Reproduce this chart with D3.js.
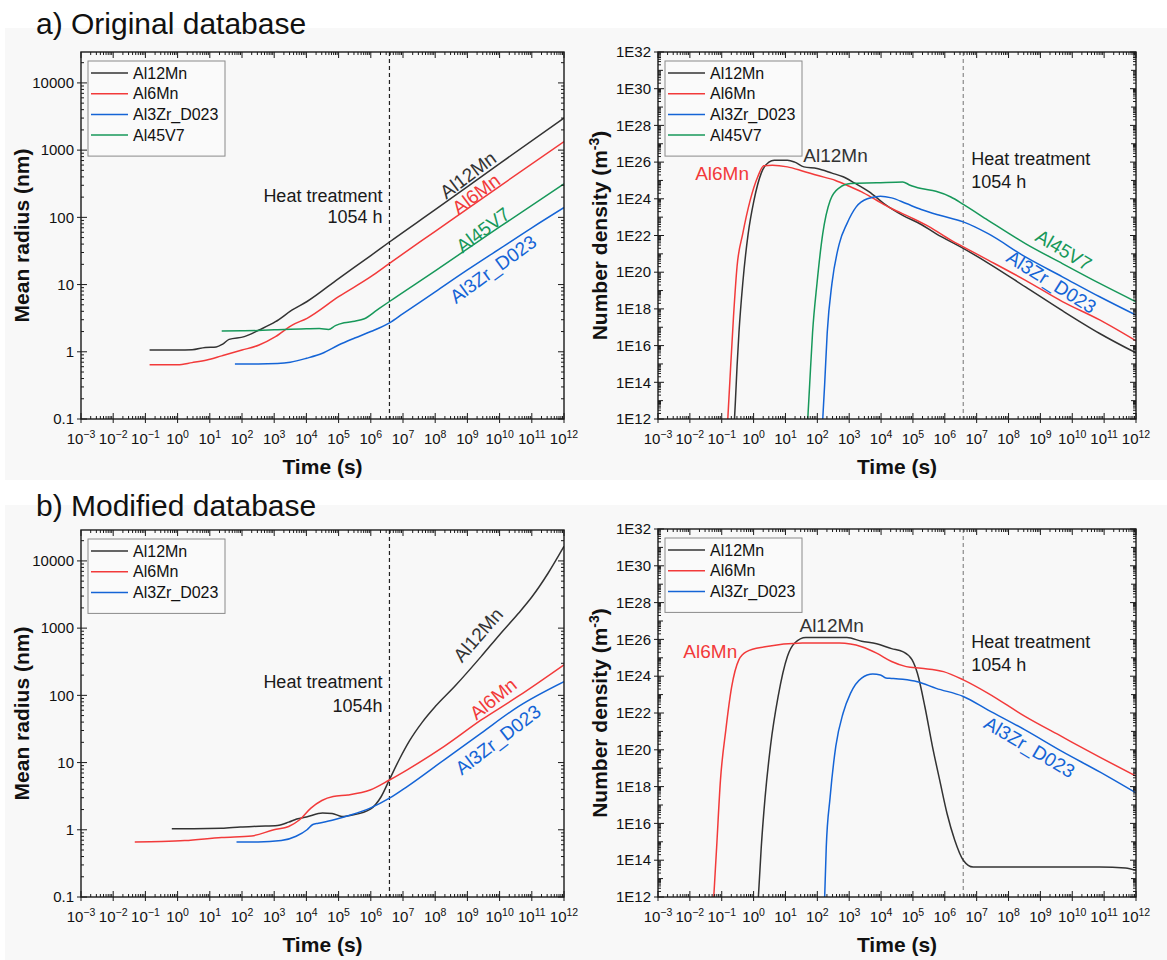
<!DOCTYPE html>
<html><head><meta charset="utf-8">
<script src="https://cdn.jsdelivr.net/npm/d3@7"></script>
<style>
body{margin:0;background:#fff;}
svg{display:block;font-family:"Liberation Sans",Arial,Helvetica,sans-serif;}
</style>
</head><body>
<svg id="c" width="1167" height="960"></svg>
<script>
// ================= DATA =================
const timeExponents = d3.range(-3, 13);          // x ticks 10^-3 ... 10^12
const radiusTicks = [0.1, 1, 10, 100, 1000, 10000];
const densityExponents = [12,14,16,18,20,22,24,26,28,30,32];
const heatTreatmentHours = 1054;
const seriesNames = ["Al12Mn", "Al6Mn", "Al3Zr_D023", "Al45V7"];
const seriesColors = {"Al12Mn":"#333333","Al6Mn":"#f23a3a","Al3Zr_D023":"#1464d6","Al45V7":"#17985a"};

// ---- a) original database, mean radius: [log10 time (s), radius (nm)]
const aRadius_Al12Mn = [[-0.87,1.06],[0,1.06],[0.45,1.07],[0.86,1.16],[1.2,1.18],[1.4,1.3],[1.6,1.53],[2.07,1.68],[2.53,2.11],[3.04,2.8],[3.56,4.19],[4.02,5.6],[5,12.3],[6,27],[6.58,43],[8,130],[10,630],[12,3000]];
const aRadius_Al6Mn  = [[-0.87,0.64],[0,0.64],[0.45,0.69],[0.91,0.755],[1.37,0.87],[2.0,1.06],[2.53,1.26],[3.04,1.68],[3.56,2.5],[4.02,3.15],[5,6.6],[6,13.1],[6.58,20.7],[8,62],[10,290],[12,1340]];
const aRadius_Al3Zr  = [[1.78,0.66],[2.5,0.66],[3.1,0.67],[3.5,0.7],[4,0.8],[4.5,0.95],[5,1.26],[5.5,1.6],[6,2.0],[6.58,2.7],[7,3.7],[8,7.8],[9,16.5],[10,34],[11,70],[12,140]];
const aRadius_Al45V7 = [[1.37,2.04],[2,2.05],[2.5,2.07],[3,2.12],[3.5,2.17],[4,2.2],[4.4,2.22],[4.69,2.15],[4.9,2.45],[5.17,2.7],[5.5,2.85],[5.8,3.1],[6.2,4.2],[6.58,5.6],[8,16],[10,72],[12,315]];

// ---- a) original database, number density: [log10 time (s), log10 N (m^-3)]
const aDensity_Al12Mn = [[-0.6,12],[-0.57,13.0],[-0.52,14.85],[-0.46,16.7],[-0.34,19.4],[-0.17,22.1],[0.01,23.9],[0.24,25.4],[0.48,26.0],[0.65,26.1],[1.06,26.1],[1.29,26.0],[1.58,25.74],[1.99,25.65],[2.46,25.4],[2.81,25.2],[3.16,24.87],[3.63,24.38],[4.09,23.74],[4.68,23.1],[5.26,22.6],[5.72,22.1],[6.58,21.3],[7.36,20.5],[8.53,19.2],[9.69,17.9],[10.86,16.66],[12,15.6]];
const aDensity_Al6Mn  = [[-0.81,12],[-0.75,13.9],[-0.63,17.6],[-0.52,20.3],[-0.34,22.1],[-0.11,23.9],[0.13,25.2],[0.32,25.8],[0.59,25.83],[1.06,25.74],[1.53,25.52],[1.99,25.28],[2.57,25.0],[2.93,24.74],[3.39,24.38],[3.86,23.92],[4.33,23.47],[4.91,23.0],[5.49,22.5],[6.19,21.75],[6.58,21.38],[7.36,20.66],[8.52,19.57],[9.69,18.4],[10.86,17.4],[12,16.26]];
const aDensity_Al3Zr  = [[2.17,12],[2.23,13.9],[2.31,16.7],[2.46,19.4],[2.69,21.56],[2.93,22.65],[3.22,23.56],[3.57,24.0],[3.98,24.14],[4.33,24.05],[4.79,23.74],[5.26,23.42],[5.84,23.1],[6.58,22.74],[7.36,22.1],[8.53,20.83],[9.69,19.75],[10.86,18.66],[12,17.66]];
const aDensity_Al45V7 = [[1.70,12],[1.76,13.9],[1.85,16.7],[1.99,19.4],[2.17,22.1],[2.40,23.9],[2.69,24.6],[3.04,24.83],[3.86,24.87],[4.68,24.92],[4.91,24.74],[5.26,24.56],[5.72,24.41],[6.19,24.1],[6.58,23.7],[7.36,22.83],[8.53,21.56],[9.69,20.47],[10.86,19.39],[12,18.39]];

// ---- b) modified database, mean radius: [log10 time (s), radius (nm)]
const bRadius_Al12Mn = [[-0.18,1.04],[0.5,1.04],[1.37,1.05],[1.95,1.1],[2.53,1.13],[3.1,1.16],[3.45,1.3],[3.7,1.45],[4.0,1.55],[4.5,1.78],[4.8,1.75],[5.1,1.58],[5.4,1.65],[6.0,2.05],[6.32,3.1],[6.58,5.6],[6.9,11.5],[7.2,21],[7.6,40],[8.0,68],[8.63,140],[9.43,380],[10,800],[10.58,1650],[11,2900],[11.5,6500],[12,16500]];
const bRadius_Al6Mn  = [[-1.33,0.66],[-0.5,0.67],[0.22,0.69],[1.37,0.77],[2.3,0.81],[2.99,1.0],[3.45,1.12],[3.79,1.41],[4.14,2.1],[4.48,2.73],[4.83,3.13],[5.29,3.3],[5.98,3.9],[6.58,5.5],[7.13,7.8],[8.28,17.4],[9.43,43],[10.58,97],[12,285]];
const bRadius_Al3Zr  = [[1.83,0.66],[2.5,0.66],[3.22,0.69],[3.68,0.8],[4.02,1.0],[4.2,1.2],[4.37,1.25],[4.83,1.4],[5.4,1.67],[5.98,2.1],[6.58,2.95],[7.13,4.4],[8.28,11],[9.43,27.5],[10.58,68],[12,160]];

// ---- b) modified database, number density: [log10 time (s), log10 N (m^-3)]
const bDensity_Al12Mn = [[0.15,12],[0.24,14.7],[0.36,17.4],[0.53,20.2],[0.77,22.9],[1.06,25.07],[1.29,25.8],[1.64,26.1],[2.93,26.1],[3.39,25.9],[3.86,25.76],[4.33,25.5],[4.68,25.34],[4.97,24.9],[5.14,24.16],[5.38,22.3],[5.61,20.2],[5.84,18.35],[6.07,16.54],[6.31,15.1],[6.58,14.0],[6.89,13.63],[8.52,13.63],[10.86,13.63],[11.67,13.58],[12,13.45]];
const bDensity_Al6Mn  = [[-1.25,12],[-1.16,14.7],[-1.04,18.35],[-0.87,21.1],[-0.69,23.4],[-0.46,24.9],[-0.22,25.34],[0.36,25.6],[1.53,25.8],[2.69,25.8],[3.39,25.6],[3.86,25.25],[4.33,24.8],[4.79,24.52],[5.26,24.43],[5.96,24.25],[6.58,23.8],[7.36,23.07],[8.53,21.8],[9.69,20.7],[10.86,19.6],[12,18.57]];
const bDensity_Al3Zr  = [[2.23,12],[2.28,14.7],[2.40,17.4],[2.58,20.2],[2.81,22.0],[3.04,23.07],[3.39,23.9],[3.74,24.12],[3.98,24.07],[4.15,23.9],[4.33,23.88],[4.68,23.83],[5.14,23.7],[5.73,23.34],[6.58,22.9],[7.36,22.16],[8.53,21.07],[9.69,19.9],[10.86,18.8],[12,17.66]];

// ---- curve labels: [text, log10 t, value (radius nm or log10 N), angle]
const aRadiusLabels  = [["Al12Mn",9.02,427,-37],["Al6Mn",9.27,223,-37],["Al45V7",9.48,65,-37],["Al3Zr_D023",9.80,17,-36]];
const aDensityLabels = [["Al12Mn",2.57,26.39,0],["Al6Mn",-0.99,25.41,0],["Al45V7",9.73,21.21,31],["Al3Zr_D023",9.35,19.47,32]];
const bRadiusLabels  = [["Al12Mn",9.33,794,-49],["Al6Mn",9.8,89,-39],["Al3Zr_D023",9.95,21.9,-37.5]];
const bDensityLabels = [["Al12Mn",2.45,26.78,0],["Al6Mn",-1.36,25.37,0],["Al3Zr_D023",8.66,20.15,30.5]];

// ================= DRAWING =================
const svg = d3.select("#c");
svg.append("rect").attr("x",5).attr("y",28).attr("width",1162).attr("height",452).attr("fill","#f8f8f8");
svg.append("rect").attr("x",5).attr("y",505).attr("width",1162).attr("height",455).attr("fill","#f8f8f8");

svg.append("text").attr("x",36).attr("y",34).attr("font-size",30).attr("fill","#111").text("a) Original database");
svg.append("text").attr("x",36).attr("y",516).attr("font-size",30).attr("fill","#111").text("b) Modified database");

const htSeconds = heatTreatmentHours*3600;
let clipId = 0;

function drawPanel(cfg){
  const {x0,x1,y0,y1,kind,series,labels,legend,dashColor,ht} = cfg;
  const g = svg.append("g");
  const x = d3.scaleLog().domain([1e-3,1e12]).range([x0,x1]);
  const yDom = kind==="radius" ? [0.1, Math.pow(10,4.46)] : [1e12,1e32];
  const y = d3.scaleLog().domain(yDom).range([y1,y0]);

  const id = "clip"+(clipId++);
  svg.append("clipPath").attr("id",id).append("rect").attr("x",x0).attr("y",y0).attr("width",x1-x0).attr("height",y1-y0);

  // heat-treatment line
  const hx = x(htSeconds);
  g.append("line").attr("x1",hx).attr("x2",hx).attr("y1",y0).attr("y2",y1)
    .attr("stroke",dashColor).attr("stroke-width",1.2).attr("stroke-dasharray","4,3");

  // curves
  const line = d3.line()
    .x(d=>x(Math.pow(10,d[0])))
    .y(d=>y(kind==="radius"? d[1] : Math.pow(10,d[1])))
    .curve(d3.curveMonotoneX);
  const cg = g.append("g").attr("clip-path",`url(#${id})`);
  series.forEach(([name,data])=>{
    cg.append("path").datum(data).attr("d",line).attr("fill","none")
      .attr("stroke",seriesColors[name]).attr("stroke-width",1.5);
  });

  // frame
  g.append("rect").attr("x",x0).attr("y",y0).attr("width",x1-x0).attr("height",y1-y0)
    .attr("fill","none").attr("stroke","#1a1a1a").attr("stroke-width",1.4);

  const tk = g.append("g").attr("stroke","#1a1a1a").attr("stroke-width",1);
  // x ticks
  timeExponents.forEach(e=>{
    const xp = x(Math.pow(10,e));
    tk.append("line").attr("x1",xp).attr("x2",xp).attr("y1",y1+4).attr("y2",y1-6);
    tk.append("line").attr("x1",xp).attr("x2",xp).attr("y1",y0).attr("y2",y0+6);
    if(e<12){
      for(let k=2;k<=9;k++){
        const xm = x(k*Math.pow(10,e));
        tk.append("line").attr("x1",xm).attr("x2",xm).attr("y1",y1).attr("y2",y1-3);
        tk.append("line").attr("x1",xm).attr("x2",xm).attr("y1",y0).attr("y2",y0+3);
      }
    }
    const t = g.append("text").attr("x",xp).attr("y",y1+25).attr("text-anchor","middle")
      .attr("font-size",15).attr("fill","#111");
    t.append("tspan").text("10");
    t.append("tspan").attr("dy",-6).attr("font-size",10.5).text(e<0? "\u2212"+(-e) : String(e));
  });

  // y ticks
  function yMajor(v, label){
    const yp = y(v);
    tk.append("line").attr("x1",x0-4).attr("x2",x0+6).attr("y1",yp).attr("y2",yp);
    tk.append("line").attr("x1",x1-6).attr("x2",x1).attr("y1",yp).attr("y2",yp);
    g.append("text").attr("x",x0-7).attr("y",yp).attr("dy","0.35em").attr("text-anchor","end")
      .attr("font-size",15).attr("fill","#111").text(label);
  }
  function yMinor(v,len){
    if(v<yDom[0]||v>yDom[1]) return;
    const yp = y(v);
    tk.append("line").attr("x1",x0).attr("x2",x0+len).attr("y1",yp).attr("y2",yp);
    tk.append("line").attr("x1",x1-len).attr("x2",x1).attr("y1",yp).attr("y2",yp);
  }
  if(kind==="radius"){
    radiusTicks.forEach(v=>{
      yMajor(v, String(v));
      for(let k=2;k<=9;k++) yMinor(k*v,3);
    });
  } else {
    densityExponents.forEach(e=>{
      yMajor(Math.pow(10,e), "1E"+e);
      if(e<32){
        for(let k=2;k<=9;k++) yMinor(k*Math.pow(10,e),3);
        yMinor(Math.pow(10,e+1),5);
        for(let k=2;k<=9;k++) yMinor(k*Math.pow(10,e+1),3);
      }
    });
  }

  // axis titles
  g.append("text").attr("x",(x0+x1)/2).attr("y",y1+55).attr("text-anchor","middle")
    .attr("font-size",21).attr("font-weight","bold").attr("fill","#111").text("Time (s)");
  const yt = g.append("text").attr("transform",`translate(${cfg.ytX},${(y0+y1)/2}) rotate(-90)`)
    .attr("text-anchor","middle").attr("font-size",21).attr("font-weight","bold").attr("fill","#111");
  if(kind==="radius"){ yt.text("Mean radius (nm)"); }
  else {
    yt.append("tspan").text("Number density (m");
    yt.append("tspan").attr("dy",-8).attr("font-size",14).text("-3");
    yt.append("tspan").attr("dy",8).text(")");
  }

  // heat treatment annotation
  const ha = g.append("g").attr("font-size",18).attr("fill","#1a1a1a");
  const hax = ht.side==="left" ? hx-7 : hx+8;
  const anchor = ht.side==="left" ? "end" : "start";
  const yv = v => kind==="radius" ? y(v) : y(Math.pow(10,v));
  ha.append("text").attr("x",hax).attr("y",yv(ht.v1)).attr("text-anchor",anchor).text("Heat treatment");
  ha.append("text").attr("x",hax).attr("y",yv(ht.v2)).attr("text-anchor",anchor).text(ht.t2);

  // curve labels
  labels.forEach(([txt,lt,v,ang])=>{
    const px = x(Math.pow(10,lt)), py = yv(v);
    g.append("text").attr("transform",`translate(${px},${py}) rotate(${ang})`)
      .attr("text-anchor","middle").attr("dy","0.35em").attr("font-size",19)
      .attr("fill",seriesColors[txt]).text(txt);
  });

  // legend
  const lx = x0+7, ly = y0+9, lh = 21+ (legend.length-1)*20.7 + 12;
  const lg = g.append("g");
  lg.append("rect").attr("x",lx).attr("y",ly).attr("width",137).attr("height",lh)
    .attr("fill","#fafafa").attr("stroke","#8a8a8a").attr("stroke-width",1);
  legend.forEach((name,i)=>{
    const ey = ly+12+i*20.7;
    lg.append("line").attr("x1",lx+3).attr("x2",lx+40).attr("y1",ey).attr("y2",ey)
      .attr("stroke",seriesColors[name]).attr("stroke-width",1.5);
    lg.append("text").attr("x",lx+45).attr("y",ey).attr("dy","0.36em").attr("font-size",16)
      .attr("fill","#111").text(name);
  });
}

drawPanel({x0:81,x1:564,y0:52,y1:419,kind:"radius",ytX:29,dashColor:"#222",
  series:[["Al12Mn",aRadius_Al12Mn],["Al6Mn",aRadius_Al6Mn],["Al3Zr_D023",aRadius_Al3Zr],["Al45V7",aRadius_Al45V7]],
  labels:aRadiusLabels, legend:seriesNames,
  ht:{side:"left",v1:170,v2:83,t2:"1054 h"}});

drawPanel({x0:658,x1:1136,y0:52,y1:419,kind:"density",ytX:607,dashColor:"#8a8a8a",
  series:[["Al12Mn",aDensity_Al12Mn],["Al6Mn",aDensity_Al6Mn],["Al3Zr_D023",aDensity_Al3Zr],["Al45V7",aDensity_Al45V7]],
  labels:aDensityLabels, legend:seriesNames,
  ht:{side:"right",v1:25.84,v2:24.59,t2:"1054 h"}});

drawPanel({x0:81,x1:564,y0:530,y1:897,kind:"radius",ytX:29,dashColor:"#222",
  series:[["Al12Mn",bRadius_Al12Mn],["Al6Mn",bRadius_Al6Mn],["Al3Zr_D023",bRadius_Al3Zr]],
  labels:bRadiusLabels, legend:seriesNames.slice(0,3),
  ht:{side:"left",v1:129,v2:56,t2:"1054h"}});

drawPanel({x0:658,x1:1136,y0:529,y1:897,kind:"density",ytX:607,dashColor:"#8a8a8a",
  series:[["Al12Mn",bDensity_Al12Mn],["Al6Mn",bDensity_Al6Mn],["Al3Zr_D023",bDensity_Al3Zr]],
  labels:bDensityLabels, legend:seriesNames.slice(0,3),
  ht:{side:"right",v1:25.53,v2:24.28,t2:"1054 h"}});
</script>
</body></html>
